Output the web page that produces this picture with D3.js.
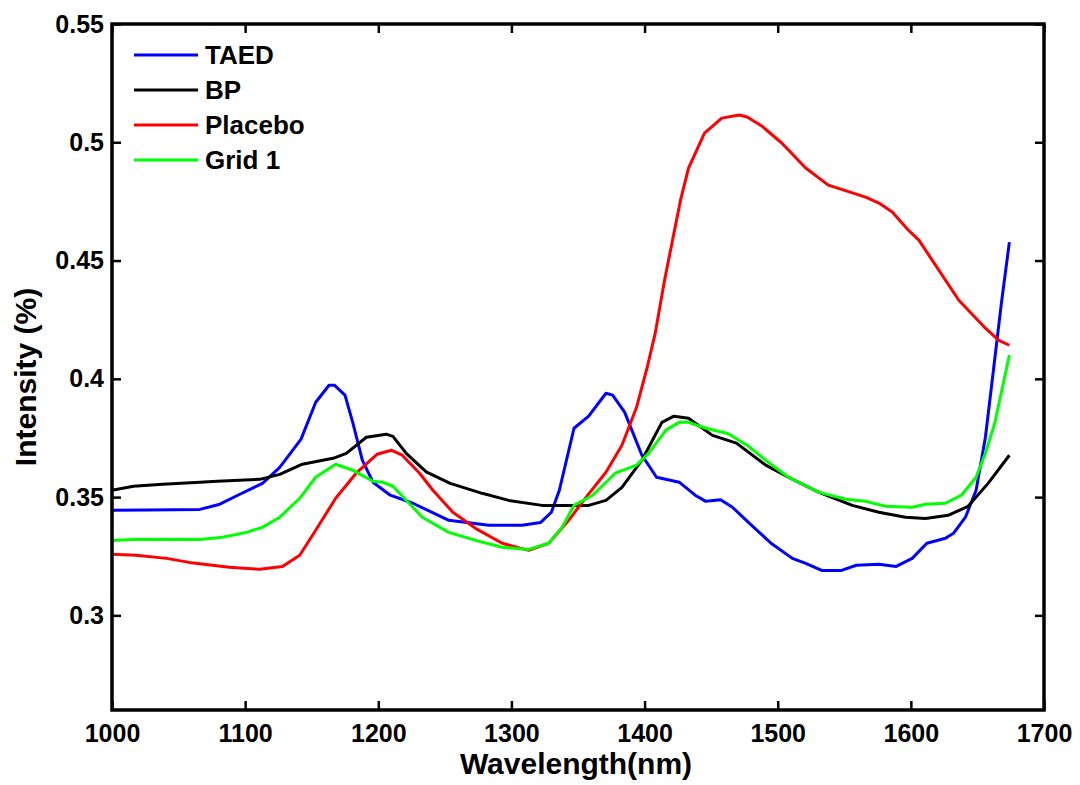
<!DOCTYPE html>
<html>
<head>
<meta charset="utf-8">
<script src="https://cdn.jsdelivr.net/npm/d3@7"></script>
<style>
  html, body { margin: 0; padding: 0; background: #fff; }
  svg { display: block; font-family: "Liberation Sans", Arial, Helvetica, sans-serif; font-weight: bold; }
</style>
</head>
<body>
<svg id="chart" width="1080" height="785"></svg>
<script>
// ---------- data ----------
const seriesNames = ["TAED", "BP", "Placebo", "Grid 1"];
const seriesColors = ["#0000ff", "#000000", "#ff0000", "#00ff00"];

const taedWl  = [1000,1026,1066,1081,1096,1113,1126,1142,1153,1163,1167,1175,1181,1188,1196,1209,1226,1253,1283,1308,1322,1330,1336,1347,1358,1371,1376,1385,1398,1409,1426,1438,1446,1457,1466,1478,1495,1511,1521,1533,1548,1559,1576,1589,1601,1612,1626,1632,1641,1649,1656,1662,1668,1674];
const taedVal = [0.3444,0.3446,0.3448,0.3470,0.3512,0.3558,0.3626,0.3745,0.3901,0.3973,0.3973,0.3931,0.3812,0.3656,0.3563,0.3508,0.3474,0.3402,0.3381,0.3381,0.3393,0.3436,0.3529,0.3791,0.3842,0.3939,0.3931,0.3859,0.3677,0.3584,0.3563,0.3508,0.3482,0.3489,0.3457,0.3393,0.3305,0.3241,0.3220,0.3190,0.3190,0.3212,0.3216,0.3207,0.3241,0.3305,0.3326,0.3347,0.3415,0.3529,0.3753,0.4036,0.4320,0.4578];

const bpWl  = [1000,1016,1038,1066,1079,1111,1126,1143,1166,1176,1191,1206,1211,1221,1236,1254,1278,1298,1323,1358,1371,1383,1398,1413,1422,1433,1451,1469,1491,1508,1531,1556,1576,1596,1611,1628,1643,1658,1674];
const bpVal = [0.3529,0.3546,0.3554,0.3563,0.3567,0.3575,0.3596,0.3639,0.3664,0.3685,0.3753,0.3766,0.3757,0.3685,0.3607,0.3558,0.3516,0.3486,0.3465,0.3465,0.3486,0.3541,0.3656,0.3816,0.3842,0.3833,0.3761,0.3728,0.3635,0.3584,0.3520,0.3465,0.3436,0.3415,0.3410,0.3423,0.3461,0.3558,0.3677];

const placeboWl  = [1000,1018,1041,1058,1088,1111,1128,1141,1153,1168,1184,1199,1210,1218,1231,1241,1256,1273,1293,1313,1328,1343,1356,1371,1383,1394,1402,1408,1415,1421,1427,1433,1445,1458,1471,1477,1488,1503,1521,1538,1566,1576,1586,1598,1606,1616,1636,1656,1666,1674];
const placeboVal = [0.3258,0.3254,0.3241,0.3224,0.3203,0.3195,0.3207,0.3254,0.3360,0.3495,0.3605,0.3681,0.3698,0.3677,0.3601,0.3529,0.3436,0.3368,0.3305,0.3275,0.3305,0.3402,0.3499,0.3605,0.3719,0.3880,0.4049,0.4193,0.4417,0.4586,0.4755,0.4891,0.5039,0.5102,0.5115,0.5107,0.5069,0.4997,0.4891,0.4819,0.4768,0.4743,0.4705,0.4629,0.4586,0.4502,0.4332,0.4214,0.4163,0.4142];

const gridWl  = [1000,1016,1066,1083,1101,1113,1126,1141,1153,1168,1181,1196,1203,1211,1221,1233,1253,1273,1293,1313,1328,1338,1347,1361,1378,1394,1403,1416,1426,1433,1446,1463,1478,1491,1508,1531,1551,1566,1581,1601,1611,1626,1638,1649,1656,1663,1674];
const gridVal = [0.3317,0.3321,0.3321,0.3330,0.3351,0.3372,0.3415,0.3495,0.3584,0.3639,0.3613,0.3567,0.3563,0.3546,0.3487,0.3415,0.3351,0.3317,0.3288,0.3279,0.3305,0.3372,0.3465,0.3508,0.3601,0.3635,0.3685,0.3783,0.3816,0.3816,0.3791,0.3768,0.3715,0.3656,0.3584,0.3520,0.3491,0.3482,0.3461,0.3457,0.3470,0.3474,0.3508,0.3584,0.3685,0.3812,0.4100];

const xTicks = [1000,1100,1200,1300,1400,1500,1600,1700];
const yTicks = [0.3,0.35,0.4,0.45,0.5,0.55];
const yTickLabels = ["0.3","0.35","0.4","0.45","0.5","0.55"];

(function () {
// ---------- layout ----------
const svg = d3.select("#chart");
const pL = 112, pR = 1044, pT = 24, pB = 710;
const x = d3.scaleLinear().domain([1000, 1700]).range([pL, pR]);
const y = d3.scaleLinear().domain([0.26, 0.55]).range([pB, pT]);

const series = [
  {wl: taedWl, val: taedVal},
  {wl: bpWl, val: bpVal},
  {wl: placeboWl, val: placeboVal},
  {wl: gridWl, val: gridVal}
];

const line = d3.line().x(d => x(d[0])).y(d => y(d[1]));
svg.append("clipPath").attr("id", "clip")
  .append("rect").attr("x", pL).attr("y", pT).attr("width", pR - pL).attr("height", pB - pT);

const plot = svg.append("g").attr("clip-path", "url(#clip)");
series.forEach((s, i) => {
  const pts = s.wl.map((w, j) => [w, s.val[j]]);
  plot.append("path").datum(pts)
    .attr("d", line)
    .attr("fill", "none")
    .attr("stroke", seriesColors[i])
    .attr("stroke-width", 3)
    .attr("stroke-linejoin", "round");
});

// ---------- axes ----------
const tickLen = 9;
const fmt = d => yTickLabels[yTicks.indexOf(d)];
const axB = d3.axisBottom(x).tickValues(xTicks).tickSizeInner(-tickLen).tickSizeOuter(0).tickPadding(14).tickFormat(d3.format("d"));
const axT = d3.axisTop(x).tickValues(xTicks).tickSizeInner(-tickLen).tickSizeOuter(0).tickFormat("");
const axL = d3.axisLeft(y).tickValues(yTicks).tickSizeInner(-tickLen).tickSizeOuter(0).tickPadding(8).tickFormat(fmt);
const axR = d3.axisRight(y).tickValues(yTicks).tickSizeInner(-tickLen).tickSizeOuter(0).tickFormat("");

function styleAxis(g) {
  g.select(".domain").remove();
  g.selectAll(".tick line").attr("stroke", "#000").attr("stroke-width", 2.5);
  g.selectAll(".tick text").attr("fill", "#000").style("font-size", "25px").style("font-weight", "bold")
    .style("font-family", "'Liberation Sans', Arial, sans-serif");
}
svg.append("g").attr("transform", `translate(0,${pB})`).call(axB).call(styleAxis);
svg.append("g").attr("transform", `translate(0,${pT})`).call(axT).call(styleAxis);
svg.append("g").attr("transform", `translate(${pL},0)`).call(axL).call(styleAxis);
svg.append("g").attr("transform", `translate(${pR},0)`).call(axR).call(styleAxis);

// frame
svg.append("rect").attr("x", pL).attr("y", pT).attr("width", pR - pL).attr("height", pB - pT)
  .attr("fill", "none").attr("stroke", "#000").attr("stroke-width", 3.5);

// axis titles
svg.append("text").attr("x", (pL + pR) / 2 - 2).attr("y", 774).attr("text-anchor", "middle")
  .style("font-size", "30px").text("Wavelength(nm)");
svg.append("text").attr("transform", `translate(36,${(pT + pB) / 2 + 10}) rotate(-90)`)
  .attr("text-anchor", "middle").style("font-size", "30px").text("Intensity (%)");

// legend
const leg = svg.append("g");
seriesNames.forEach((n, i) => {
  const ly = 55 + i * 35;
  leg.append("line").attr("x1", 134).attr("x2", 198).attr("y1", ly).attr("y2", ly)
    .attr("stroke", seriesColors[i]).attr("stroke-width", 3);
  leg.append("text").attr("x", 205).attr("y", ly).attr("dy", "0.36em")
    .style("font-size", "26px").text(n);
});
})();
</script>
</body>
</html>
